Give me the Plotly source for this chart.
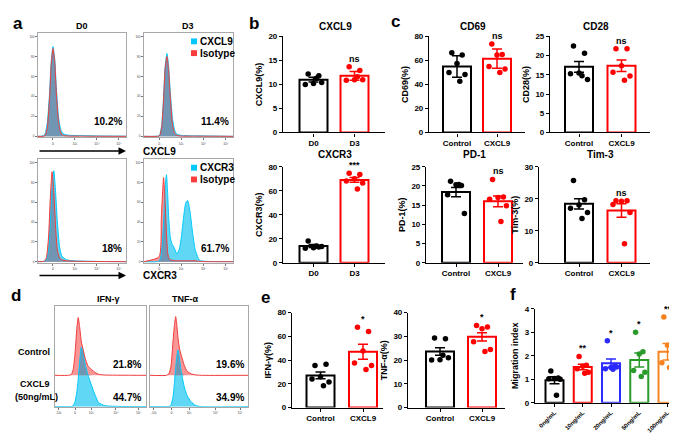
import plotly.graph_objects as go

# ---------------- data ----------------
# a: flow histograms, x in display units (ticks 0, 10^3, 10^4, 10^5 at 0..3), y in % of max
a_d0_cxcl9_x = [-0.68, -0.45, -0.35, -0.25, -0.15, -0.08, 0.0, 0.08, 0.15, 0.25, 0.35, 0.45, 0.6, 0.8, 1.2, 2.0, 3.32]
a_d0_cxcl9_cyan = [0, 0.5, 3, 15, 45, 75, 90, 78, 50, 20, 7, 3, 1.5, 1, 0.8, 0.4, 0.2]
a_d0_cxcl9_red = [0, 0, 1, 10, 40, 72, 88, 75, 45, 15, 4, 1, 0.5, 0.3, 0.2, 0.1, 0]

a_d3_cxcl9_x = [-0.68, 0.0, 0.05, 0.12, 0.2, 0.27, 0.35, 0.42, 0.5, 0.6, 0.7, 0.8, 1.0, 1.5, 2.5, 3.32]
a_d3_cxcl9_cyan = [0, 0.5, 3, 12, 40, 70, 83, 72, 45, 18, 6, 2, 1, 0.5, 0.3, 0]
a_d3_cxcl9_red = [0, 0.3, 2, 10, 36, 68, 80, 68, 40, 12, 3, 1, 0.3, 0.2, 0.1, 0]

a_d0_cxcr3_x = [-0.68, -0.4, -0.3, -0.2, -0.12, -0.04, 0.04, 0.12, 0.2, 0.3, 0.4, 0.6, 1.0, 2.0, 3.32]
a_d0_cxcr3_cyan = [0, 0.3, 2, 12, 40, 75, 92, 70, 40, 15, 6, 2, 0.8, 0.3, 0]
a_d0_cxcr3_red = [0, 0.5, 4, 25, 65, 91, 70, 35, 12, 4, 2, 1, 0.5, 0.2, 0]

a_d3_cxcr3_x = [-0.68, 0.0, 0.1, 0.2, 0.27, 0.33, 0.38, 0.43, 0.5, 0.58, 0.68, 0.79, 0.9, 1.0,
                1.1, 1.2, 1.28, 1.38, 1.5, 1.62, 1.75, 1.85, 2.2, 3.32]
a_d3_cxcr3_cyan = [0, 0.5, 8, 40, 75, 88, 70, 45, 25, 18, 14, 8, 12, 25, 45, 60, 62, 52, 30, 12, 4, 1, 0.3, 0]
a_d3_cxcr3_red = [0, 5, 45, 85, 60, 28, 10, 4, 2, 1.5, 1, 1, 1, 1, 1, 1, 1, 1, 1, 1, 0.5, 0.3, 0, 0]

a_xticks = [0, 1, 2, 3]
a_xlabels = ["0", "10³", "10⁴", "10⁵"]
a_yticks = [0, 20, 40, 60, 80, 100]

# d: offset histograms (x in channel units 0-100, heights above own baseline)
d_ifn_x = [0, 15, 18, 20, 22, 24, 25.5, 27, 29, 31, 33, 36, 40, 44, 48, 55, 100]
d_ifn_control = [0, 0, 1, 6, 22, 48, 59, 50, 34, 26, 18, 10, 6, 3, 1, 0.3, 0]
d_ifn_cxcl9 = [0, 0, 0, 1, 5, 15, 28, 45, 61, 55, 44, 33, 22, 12, 4, 1, 0]

d_tnf_x = [0, 17, 19.5, 21.5, 23.5, 25, 26.2, 27.5, 28.6, 30, 32, 35, 38, 42, 46, 52, 100]
d_tnf_control = [0, 0, 2, 10, 35, 52, 60, 50, 38, 28, 20, 10, 4, 1.5, 0.5, 0, 0]
d_tnf_cxcl9 = [0, 0, 0, 2, 10, 25, 40, 52, 58, 50, 35, 20, 11, 5, 1.5, 0, 0]

d_xticks = [4, 22, 40, 67, 92]
d_xlabels = ["-10³", "0", "10³", "10⁴", "10⁵"]

# b
b_cats = ["D0", "D3"]
cxcl9_d0 = [12.2, 11.8, 10.2, 10.0, 10.4, 11.3]
cxcl9_d3 = [13.7, 12.9, 11.0, 10.9, 11.0, 11.6]
cxcl9_mean = [11.0, 11.8]
cxcl9_err = [0.5, 0.9]

cxcr3_d0 = [18.0, 13.0, 12.5, 12.0, 13.5, 14.0]
cxcr3_d3 = [74.5, 73.5, 70.0, 68.0, 66.5, 61.5]
cxcr3_mean = [13.9, 69.0]
cxcr3_err = [1.2, 2.0]

# c
c_cats = ["Control", "CXCL9"]
cd69_ctrl = [66.4, 64.5, 57.5, 50.0, 48.3, 42.6]
cd69_cxcl9 = [73.7, 65.0, 64.5, 55.0, 52.9, 50.0]
cd69_mean = [55.0, 61.5]
cd69_err = [9.0, 8.0]

cd28_ctrl = [22.5, 20.6, 15.5, 15.3, 13.8, 14.8]
cd28_cxcl9 = [21.8, 21.8, 17.4, 15.7, 14.7, 13.6]
cd28_mean = [17.1, 17.4]
cd28_err = [1.4, 1.5]

pd1_ctrl = [21.2, 20.1, 20.3, 17.7, 12.8, 20.4]
pd1_cxcl9 = [21.7, 17.1, 17.0, 16.5, 14.8, 10.7]
pd1_mean = [18.4, 16.0]
pd1_err = [1.2, 1.4]

tim3_ctrl = [25.7, 19.7, 18.0, 17.0, 15.7, 13.8]
tim3_cxcl9 = [19.4, 19.4, 19.2, 18.2, 15.7, 5.9]
tim3_mean = [18.4, 16.3]
tim3_err = [1.6, 2.1]

# e
ifng_ctrl = [35.4, 36.5, 26.0, 24.0, 21.6, 18.4]
ifng_cxcl9 = [67.7, 64.1, 47.7, 37.6, 35.4, 32.1]
ifng_mean = [27.1, 47.1]
ifng_err = [2.8, 6.3]

tnfa_ctrl = [29.3, 29.0, 20.2, 20.0, 21.0, 22.0]
tnfa_cxcl9 = [34.6, 33.9, 33.2, 27.7, 24.5, 23.6]
tnfa_mean = [23.6, 29.8]
tnfa_err = [1.6, 1.7]

# f
f_cats = ["0ng/mL", "10ng/mL", "20ng/mL", "50ng/mL", "100ng/mL"]
mig_0 = [1.35, 1.05, 1.03, 1.02, 1.0, 0.32]
mig_10 = [1.97, 1.6, 1.55, 1.45, 1.3, 1.25]
mig_20 = [2.64, 1.56, 1.5, 1.45, 1.52, 1.42]
mig_50 = [3.0, 2.17, 2.07, 1.37, 1.3, 1.12]
mig_100 = [3.65, 2.5, 2.45, 1.7, 1.5, 1.5]
mig_mean = [0.96, 1.52, 1.68, 1.82, 2.17]
mig_err = [0.15, 0.12, 0.18, 0.3, 0.35]

# ---------------- styling ----------------
W, H = 677, 434
FONT = "Liberation Sans, Arial, sans-serif"
CYAN_LINE = "rgb(0,200,250)"
CYAN_FILL = "rgb(95,215,245)"
RED_LINE = "rgb(240,60,60)"
RED_FILL = "rgb(248,150,150)"
OVER_FILL = "rgb(112,150,180)"
BLACK, RED, BLUE, GREEN, ORANGE = "black", "#ff0000", "#2b2bff", "#2a9a2a", "#f7821f"
JIT = [-0.13, 0.13, 0.0, -0.2, 0.2, 0.07]

fig = go.Figure()
n_axes = 0


def add_axes(x0, x1, y0, y1, xcfg, ycfg):
    global n_axes
    n_axes += 1
    s = "" if n_axes == 1 else str(n_axes)
    fig.update_layout({
        "xaxis" + s: dict(domain=[x0 / W, x1 / W], anchor="y" + s, **xcfg),
        "yaxis" + s: dict(domain=[1 - y1 / H, 1 - y0 / H], anchor="x" + s, **ycfg),
    })
    return "x" + s, "y" + s


def text(x, y, s, size=9, xanchor="center", weight="bold", color="black"):
    fig.add_annotation(x=x / W, y=1 - y / H, xref="paper", yref="paper", text=s,
                       showarrow=False, xanchor=xanchor, yanchor="middle",
                       font=dict(family=FONT, size=size, color=color, weight=weight))


def flow_box(x0, x1, y0, y1, xs, cyan, red, xrange, xticks, xlabels, yrange,
             yticks=None, red_base=0):
    box = dict(showline=True, linecolor="#a8a8a8", linewidth=1, mirror=True,
               showgrid=False, zeroline=False, fixedrange=True)
    xcfg = dict(range=xrange, tickvals=xticks, ticktext=xlabels, ticks="outside",
                ticklen=2, tickcolor="#777", tickfont=dict(family=FONT, size=3.5, color="#444"), **box)
    if yticks:
        ycfg = dict(range=yrange, tickvals=yticks, ticks="outside", ticklen=2, tickcolor="#777",
                    tickfont=dict(family=FONT, size=3, color="#444"), **box)
    else:
        ycfg = dict(range=yrange, showticklabels=False, **box)
    xa, ya = add_axes(x0, x1, y0, y1, xcfg, ycfg)
    red_top = [v + red_base for v in red]
    overlap = [max(red_base, min(c, r)) for c, r in zip(cyan, red_top)]
    base = [red_base] * len(xs)
    spl = dict(shape="spline", smoothing=0.5)

    def tr(y, **kw):
        fig.add_trace(go.Scatter(x=xs, y=y, mode="lines", xaxis=xa, yaxis=ya, hoverinfo="skip", **kw))

    tr(cyan, fill="tozeroy", fillcolor=CYAN_FILL, line=dict(width=0, **spl))
    tr(base, line=dict(width=0))
    tr(red_top, fill="tonexty", fillcolor=RED_FILL, line=dict(width=0, **spl))
    tr(base, line=dict(width=0))
    tr(overlap, fill="tonexty", fillcolor=OVER_FILL, line=dict(width=0, **spl))
    tr(cyan, line=dict(color=CYAN_LINE, width=1, **spl))
    tr(red_top, line=dict(color=RED_LINE, width=1, **spl))


AX = dict(showline=True, linecolor="black", linewidth=1.2, ticks="outside", ticklen=3,
          tickwidth=1.2, tickcolor="black", showgrid=False, zeroline=False, fixedrange=True,
          tickfont=dict(family=FONT, size=8, color="black", weight="bold"))


def bar_panel(cats, groups, means, errs, colors, ymax, dtick, ytitle, xa, centers, xr,
              yt, yb, marks, bw=28, tickangle=0, tsize=8):
    unit = (centers[-1] - centers[0]) / (len(centers) - 1)
    rng = [(xa - centers[0]) / unit, (xr - centers[0]) / unit]
    xcfg = dict(AX, range=rng, tickvals=list(range(len(cats))), ticktext=cats, tickangle=tickangle,
                tickfont=dict(family=FONT, size=tsize, color="black", weight="bold"))
    ycfg = dict(AX, range=[0, ymax], dtick=dtick,
                title=dict(text=ytitle, standoff=4,
                           font=dict(family=FONT, size=9, color="black", weight="bold")))
    ax, ay = add_axes(xa, xr, yt, yb, xcfg, ycfg)
    for i, (g, m, e, c) in enumerate(zip(groups, means, errs, colors)):
        fig.add_trace(go.Bar(x=[i], y=[m], width=bw / unit,
                             marker=dict(color="white", line=dict(color=c, width=2)),
                             xaxis=ax, yaxis=ay, hoverinfo="skip"))
        fig.add_trace(go.Scatter(x=[i + JIT[k % 6] for k in range(len(g))], y=g, mode="markers",
                                 marker=dict(color=c, size=5.5), cliponaxis=False,
                                 xaxis=ax, yaxis=ay, hoverinfo="skip"))
        fig.add_trace(go.Scatter(x=[i], y=[m], mode="markers", marker=dict(color=c, size=1),
                                 error_y=dict(type="data", array=[e], color=c, thickness=1.5, width=5),
                                 cliponaxis=False, xaxis=ax, yaxis=ay, hoverinfo="skip"))
        if marks[i]:
            fig.add_annotation(x=i, y=max(g), xref=ax, yref=ay, text=marks[i], showarrow=False,
                               yanchor="bottom", yshift=1,
                               font=dict(family=FONT, size=9, color="black", weight="bold"))


# ---------------- panel a ----------------
a_xr = [-0.68, 3.32]
a_yr = [-1, 104]
flow_box(30, 118, 21, 128, a_d0_cxcl9_x, a_d0_cxcl9_cyan, a_d0_cxcl9_red, a_xr, a_xticks, a_xlabels, a_yr, a_yticks)
flow_box(136, 225, 21, 128, a_d3_cxcl9_x, a_d3_cxcl9_cyan, a_d3_cxcl9_red, a_xr, a_xticks, a_xlabels, a_yr, a_yticks)
flow_box(30, 118, 150, 256, a_d0_cxcr3_x, a_d0_cxcr3_cyan, a_d0_cxcr3_red, a_xr, a_xticks, a_xlabels, a_yr, a_yticks)
flow_box(136, 225, 150, 256, a_d3_cxcr3_x, a_d3_cxcr3_cyan, a_d3_cxcr3_red, a_xr, a_xticks, a_xlabels, a_yr, a_yticks)

text(10, 12, "a", size=17)
text(74, 14, "D0", size=9)
text(180, 14, "D3", size=9)
text(116, 112, "10.2%", size=10, xanchor="right")
text(223, 112, "11.4%", size=10, xanchor="right")
text(116, 242, "18%", size=10, xanchor="right")
text(223, 242, "61.7%", size=10, xanchor="right")
for yy, lab in [(142, "CXCL9"), (269, "CXCR3")]:
    fig.add_annotation(x=118 / W, y=1 - yy / H, xref="paper", yref="paper", text="", showarrow=True,
                       ax=-88, ay=0, arrowhead=2, arrowsize=1, arrowwidth=1.5, arrowcolor="black")
    text(133, yy, lab, size=10, xanchor="left")
for yy, lab in [(30, "CXCL9"), (159, "CXCR3")]:
    fig.add_shape(type="rect", xref="paper", yref="paper", x0=183 / W, x1=189 / W,
                  y0=1 - (yy + 3) / H, y1=1 - (yy - 3) / H, fillcolor="rgb(0,200,255)", line_width=0)
    fig.add_shape(type="rect", xref="paper", yref="paper", x0=183 / W, x1=189 / W,
                  y0=1 - (yy + 15) / H, y1=1 - (yy + 9) / H, fillcolor="rgb(250,60,60)", line_width=0)
    text(190, yy, lab, size=10, xanchor="left")
    text(190, yy + 12, "Isotype", size=10, xanchor="left")

# ---------------- panel b ----------------
text(246, 12, "b", size=17)
bar_panel(b_cats, [cxcl9_d0, cxcl9_d3], cxcl9_mean, cxcl9_err, [BLACK, RED], 20, 5, "CXCL9(%)",
          275, [305.5, 346.5], 377, 25, 123, ["", "ns"])
text(327, 15, "CXCL9", size=10)
bar_panel(b_cats, [cxcr3_d0, cxcr3_d3], cxcr3_mean, cxcr3_err, [BLACK, RED], 80, 20, "CXCR3(%)",
          275, [305.5, 346.5], 377, 158, 256, ["", "***"])
text(327, 146, "CXCR3", size=10)

# ---------------- panel c ----------------
text(387, 10, "c", size=17)
bar_panel(c_cats, [cd69_ctrl, cd69_cxcl9], cd69_mean, cd69_err, [BLACK, RED], 80, 20, "CD69(%)",
          421, [449, 489], 517, 25, 123, ["", "ns"])
text(465, 15, "CD69", size=10)
bar_panel(c_cats, [cd28_ctrl, cd28_cxcl9], cd28_mean, cd28_err, [BLACK, RED], 25, 5, "CD28(%)",
          542, [571, 613.5], 642, 25, 123, ["", "ns"])
text(588, 15, "CD28", size=10)
bar_panel(c_cats, [pd1_ctrl, pd1_cxcl9], pd1_mean, pd1_err, [BLACK, RED], 25, 5, "PD-1(%)",
          418, [448, 490], 515, 158, 256, ["", "ns"])
text(467, 146, "PD-1", size=10)
bar_panel(c_cats, [tim3_ctrl, tim3_cxcl9], tim3_mean, tim3_err, [BLACK, RED], 30, 10, "Tim-3(%)",
          531, [571, 613.5], 642, 158, 256, ["", "ns"])
text(592, 146, "Tim-3", size=10)

# ---------------- panel d ----------------
d_yr = [0, 103]
flow_box(47, 138, 300, 403, d_ifn_x, d_ifn_cxcl9, d_ifn_control, [0, 100], d_xticks, d_xlabels, d_yr, red_base=32)
flow_box(142, 240, 300, 403, d_tnf_x, d_tnf_cxcl9, d_tnf_control, [0, 100], d_xticks, d_xlabels, d_yr, red_base=32)
text(8, 290, "d", size=17)
text(100, 293, "IFN-γ", size=9)
text(177, 293, "TNF-α", size=9)
text(26, 347, "Control", size=9)
text(27, 380, "CXCL9", size=9)
text(28, 393, "(50ng/mL)", size=9)
text(135, 360, "21.8%", size=10, xanchor="right")
text(135, 394, "44.7%", size=10, xanchor="right")
text(238, 360, "19.6%", size=10, xanchor="right")
text(238, 394, "34.9%", size=10, xanchor="right")

# ---------------- panel e ----------------
text(257, 292, "e", size=17)
bar_panel(c_cats, [ifng_ctrl, ifng_cxcl9], ifng_mean, ifng_err, [BLACK, RED], 80, 20, "IFN-γ(%)",
          284, [312.5, 355], 375, 307, 404, ["", "*"])
bar_panel(c_cats, [tnfa_ctrl, tnfa_cxcl9], tnfa_mean, tnfa_err, [BLACK, RED], 40, 10, "TNF-α(%)",
          400, [432, 474], 497, 307, 404, ["", "*"])

# ---------------- panel f ----------------
text(505, 288, "f", size=17)
bar_panel(f_cats, [mig_0, mig_10, mig_20, mig_50, mig_100], mig_mean, mig_err,
          [BLACK, RED, BLUE, GREEN, ORANGE], 4, 1, "Migration index",
          527, [546.5, 574.75, 603, 631.25, 659.5], 673, 303, 399,
          ["", "**", "*", "*", "**"], bw=18, tickangle=-45, tsize=6)

fig.update_layout(width=W, height=H, margin=dict(l=0, r=0, t=0, b=0),
                  paper_bgcolor="white", plot_bgcolor="white", showlegend=False,
                  barmode="overlay", font=dict(family=FONT))

fig.write_html("out.html", config={"displayModeBar": False})
